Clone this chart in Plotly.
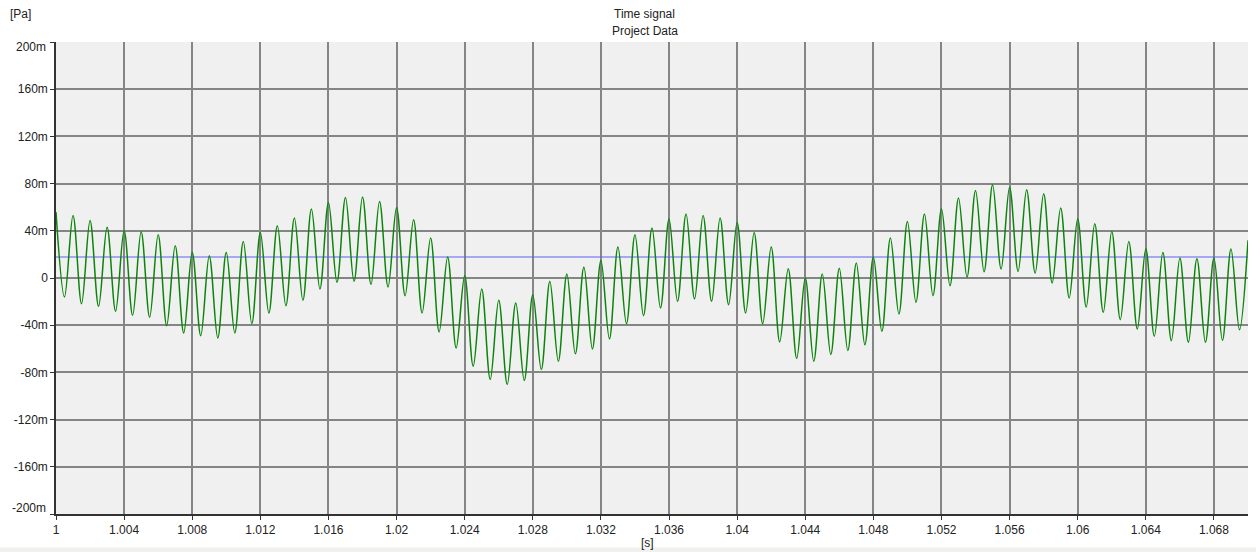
import plotly.graph_objects as go

# Time signal, 1 kHz tone with slow amplitude/offset modulation.
# Extremum values in mPa; peaks fall on whole milliseconds, troughs half a period later.
t_start = 1.0          # s
half_period = 0.0005   # s

peaks_mpa = [
    55.8, 53.0, 48.8, 43.1, 40.3, 39.2, 36.7, 27.3, 21.7, 18.9,
    21.7, 31.0, 38.6, 44.3, 50.8, 58.4, 64.0, 68.3, 68.6, 64.9,
    59.8, 49.4, 33.9, 17.8, 1.9, -9.3, -18.9, -21.2, -14.1, -2.8,
    3.4, 9.3, 14.9, 26.2, 36.7, 42.3, 49.9, 54.2, 53.0, 50.8,
    47.1, 38.6, 26.2, 7.9, 0.0, 3.4, 8.2, 12.7, 17.8, 33.9,
    47.9, 54.2, 58.4, 67.7, 74.2, 79.0, 77.0, 74.8, 71.4, 59.3,
    49.9, 46.0, 39.5, 31.0, 24.8, 21.7, 16.9, 16.3, 16.9, 24.5,
    32.0,
]

troughs_mpa = [
    -16.1, -21.8, -24.0, -28.2, -31.6, -33.3, -40.4, -46.6, -48.9, -50.8,
    -46.6, -38.7, -29.7, -23.5, -18.9, -9.3, -3.7, -2.8, -5.4, -7.6,
    -15.0, -29.7, -45.7, -59.3, -74.8, -86.1, -90.3, -86.9, -77.6, -70.6,
    -64.3, -60.1, -51.6, -38.7, -31.9, -25.4, -19.8, -17.8, -19.8, -22.6,
    -29.7, -38.7, -54.2, -68.3, -70.6, -64.9, -61.5, -56.5, -45.2, -30.5,
    -20.6, -15.0, -6.5, 0.8, 5.3, 7.6, 5.6, 4.2, -4.2, -16.9,
    -24.6, -29.1, -35.3, -43.2, -49.4, -53.1, -54.5, -54.5, -52.8, -43.8,
]

reference_level_mpa = 17.8

x_ticks = [1.0, 1.004, 1.008, 1.012, 1.016, 1.02, 1.024, 1.028, 1.032, 1.036,
           1.04, 1.044, 1.048, 1.052, 1.056, 1.06, 1.064, 1.068]
x_tick_labels = ["1", "1.004", "1.008", "1.012", "1.016", "1.02", "1.024", "1.028",
                 "1.032", "1.036", "1.04", "1.044", "1.048", "1.052", "1.056",
                 "1.06", "1.064", "1.068"]
y_ticks = [-200, -160, -120, -80, -40, 0, 40, 80, 120, 160, 200]
y_tick_labels = ["-200m", "-160m", "-120m", "-80m", "-40m", "0",
                 "40m", "80m", "120m", "160m", "200m"]

# interleave peaks and troughs into one sample sequence
values = []
for i, p in enumerate(peaks_mpa):
    values.append(p)
    if i < len(troughs_mpa):
        values.append(troughs_mpa[i])
times = [t_start + i * half_period for i in range(len(values))]

FONT = "Liberation Sans Narrow, Arial Narrow, Liberation Sans, Arial, sans-serif"
GRID = "#858585"
TEXT = "#222222"

# the end labels of the value axis sit just inside the plot's extent
edge_labels = {y_ticks[0]: (y_tick_labels[0], 6), y_ticks[-1]: (y_tick_labels[-1], -5)}
axis_labels = ["" if v in edge_labels else s for v, s in zip(y_ticks, y_tick_labels)]

annotations = [
    dict(text="[Pa]", xref="paper", yref="paper", x=-0.030, y=1.059,
         showarrow=False, xanchor="center", yanchor="middle"),
    dict(text="Time signal", xref="paper", yref="paper", x=0.494, y=1.059,
         showarrow=False, xanchor="center", yanchor="middle"),
    dict(text="Project Data", xref="paper", yref="paper", x=0.494, y=1.023,
         showarrow=False, xanchor="center", yanchor="middle"),
    dict(text="[s]", xref="paper", yref="paper", x=0.496, y=-0.061,
         showarrow=False, xanchor="center", yanchor="middle"),
]
for v, (label, shift) in edge_labels.items():
    annotations.append(dict(text=label, xref="paper", yref="y", x=0, y=v,
                            xshift=-8, yshift=shift, showarrow=False,
                            xanchor="right", yanchor="middle"))

fig = go.Figure()
fig.add_trace(go.Scatter(
    x=[t_start, times[-1]], y=[reference_level_mpa, reference_level_mpa],
    mode="lines", line=dict(color="#5b63f5", width=1), hoverinfo="skip",
))
fig.add_trace(go.Scatter(
    x=times, y=values, mode="lines",
    line=dict(color="#0a850a", width=1.5, shape="spline", smoothing=1.0),
))

fig.update_layout(
    width=1256, height=552, autosize=False,
    margin=dict(l=56, r=8, t=42, b=38),
    paper_bgcolor="white", plot_bgcolor="#f0f0f0",
    showlegend=False,
    font=dict(family=FONT, size=12, color=TEXT),
    annotations=annotations,
    shapes=[
        # status strip along the bottom of the window
        dict(type="rect", xref="paper", yref="paper",
             x0=-0.05, x1=1.01, y0=-0.0805, y1=-0.071,
             fillcolor="#f0f0ee", line=dict(width=0), layer="below"),
    ],
)
fig.update_xaxes(
    range=[1.0, 1.07], tickvals=x_ticks, ticktext=x_tick_labels,
    showgrid=True, gridcolor=GRID, gridwidth=1.5,
    showline=True, linecolor="#333333", linewidth=1.5,
    ticks="outside", ticklen=4, tickcolor="#333333", zeroline=False,
)
fig.update_yaxes(
    range=[-200, 200], tickvals=y_ticks, ticktext=axis_labels,
    showgrid=True, gridcolor=GRID, gridwidth=1.5,
    showline=True, linecolor="#333333", linewidth=1.5,
    ticks="outside", ticklen=4, tickcolor="#333333", zeroline=False,
)

fig.write_html("out.html")
